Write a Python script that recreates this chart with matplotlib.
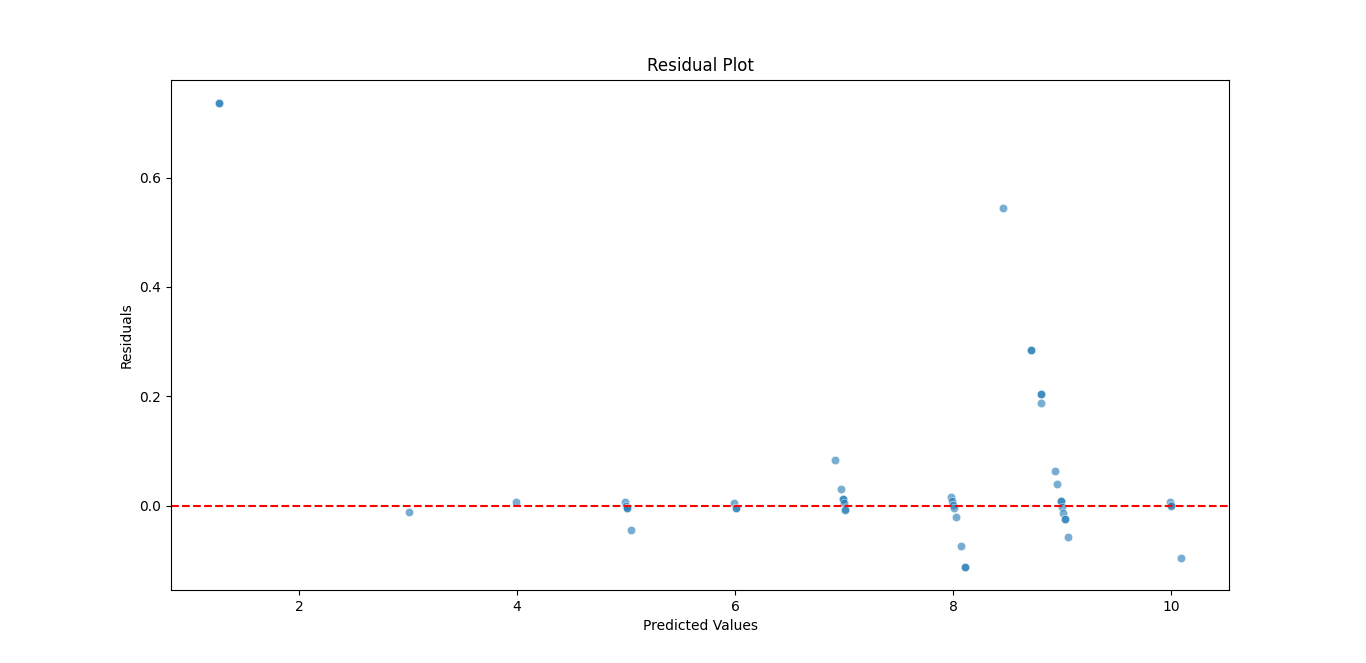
import matplotlib
matplotlib.use("Agg")
import matplotlib.pyplot as plt
import numpy as np

predicted = [1.266, 1.266, 3.009, 3.99, 4.99, 5.0, 5.01, 5.01, 5.046, 5.99, 6.01, 6.01,
             6.917, 6.97, 6.99, 6.99, 7.0, 7.01, 7.01,
             7.98, 7.99, 8.0, 8.01, 8.02, 8.07, 8.11, 8.11,
             8.459, 8.716, 8.716, 8.80, 8.80, 8.807,
             8.936, 8.954, 8.99, 8.99, 9.0, 9.01, 9.02, 9.02, 9.055,
             9.99, 10.0, 10.0, 10.09]
residuals = [0.737, 0.737, -0.011, 0.007, 0.007, 0.0, -0.005, -0.004, -0.044, 0.005, -0.005, -0.004,
             0.084, 0.031, 0.013, 0.012, 0.004, -0.007, -0.008,
             0.016, 0.009, 0.002, -0.004, -0.020, -0.073, -0.112, -0.112,
             0.545, 0.285, 0.285, 0.205, 0.205, 0.188,
             0.064, 0.040, 0.009, 0.008, -0.002, -0.013, -0.024, -0.024, -0.057,
             0.007, 0.001, 0.0, -0.095]

fig, ax = plt.subplots(figsize=(13.66, 6.63), dpi=100)
ax.scatter(predicted, residuals, s=36, alpha=0.6, color="#1f77b4",
           edgecolor="white", linewidth=0.48)
ax.axhline(0, color="red", linestyle="--")
ax.set_title("Residual Plot")
ax.set_xlabel("Predicted Values")
ax.set_ylabel("Residuals")
fig.savefig("out.png", dpi=100)
